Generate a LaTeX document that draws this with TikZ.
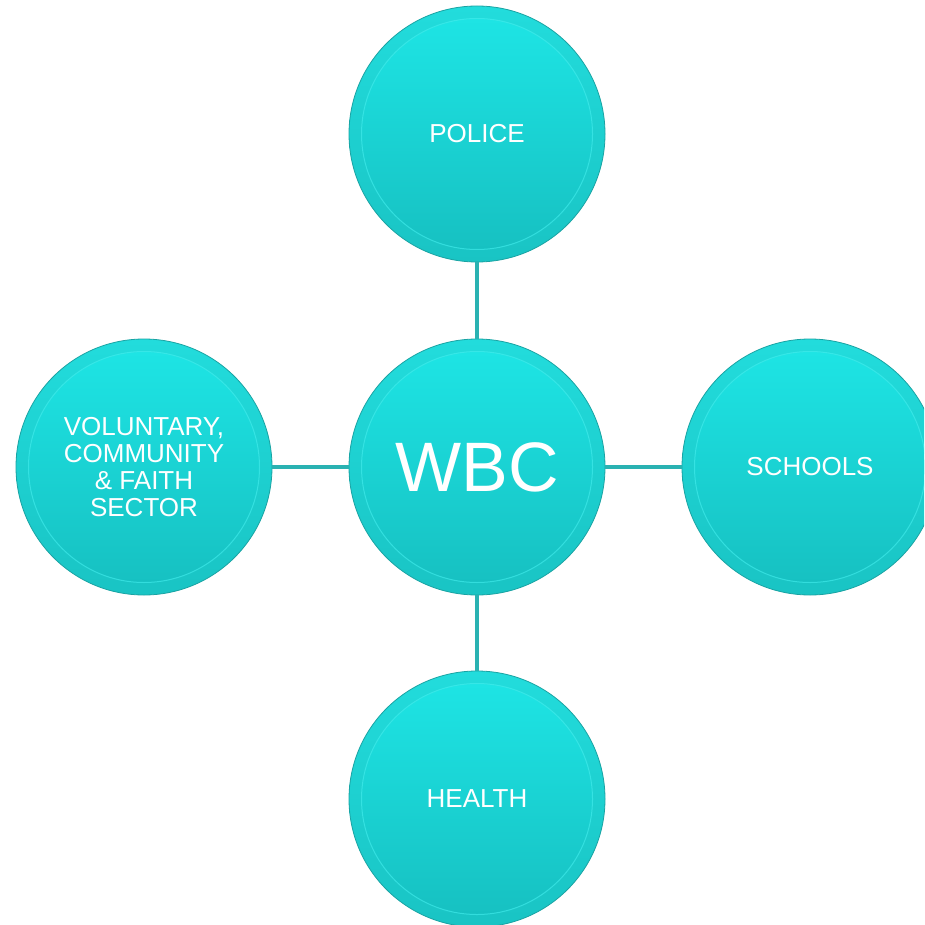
\documentclass[tikz,border=0pt]{standalone}
\usepackage{fontspec}
\setmainfont{Liberation Sans}
\definecolor{ringtop}{HTML}{22DCDC}
\definecolor{ringbot}{HTML}{19C4C4}
\definecolor{innertop}{HTML}{1EE6E6}
\definecolor{innerbot}{HTML}{16BFC0}
\definecolor{edgecol}{HTML}{1AA3A3}
\definecolor{hilite}{HTML}{48F2F2}
\definecolor{linkcol}{HTML}{2AB2B2}
\begin{document}
\begin{tikzpicture}[x=1pt,y=-1pt,
  bubble/.style={circle, minimum size=256pt, inner sep=0pt,
    top color=ringtop, bottom color=ringbot, draw=edgecol, line width=0.8pt,
    text=white, font=\fontsize{26}{27}\selectfont, align=center,
    path picture={
      \shade[top color=innertop, bottom color=innerbot]
        (path picture bounding box.center) circle (115pt);
      \draw[hilite, line width=1pt, opacity=0.55]
        (path picture bounding box.center) circle (115.5pt);
    }},
  link/.style={draw=linkcol, line width=4.5pt}]
\useasboundingbox (0,0) rectangle (924,925);
\begin{scope}
\clip (0,0) rectangle (924,925);
\node[bubble, font=\fontsize{70}{72}\selectfont] (wbc) at (477,467) {WBC};
\node[bubble] (police) at (477,134) {POLICE};
\node[bubble] (schools) at (810,467) {SCHOOLS};
\node[bubble] (health) at (477,799) {HEALTH};
\node[bubble] (vol) at (144,467) {VOLUNTARY,\\COMMUNITY\\\&~FAITH\\SECTOR};
\draw[link] (wbc) -- (police);
\draw[link] (wbc) -- (schools);
\draw[link] (wbc) -- (health);
\draw[link] (wbc) -- (vol);
\end{scope}
\end{tikzpicture}
\end{document}
